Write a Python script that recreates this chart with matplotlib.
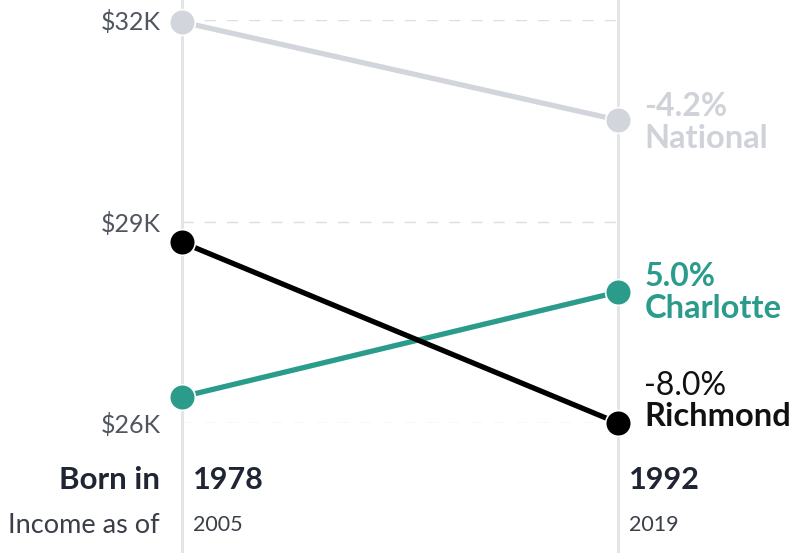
import matplotlib.pyplot as plt

plt.rcParams['font.family'] = ['Lato', 'DejaVu Sans']

born = ['1978', '1992']
income_year = ['2005', '2019']

names = ['National', 'Charlotte', 'Richmond']
changes = ['-4.2%', '5.0%', '-8.0%']
start = [31.97, 26.39, 28.69]
end = [30.51, 27.95, 26.0]
colors = ['#d3d5dc', '#2b9c8b', '#000000']
text_colors = ['#cfd2d9', '#2b9c8b', '#111111']

yticks = [26, 29, 32]
ytick_labels = ['$26K', '$29K', '$32K']

fig = plt.figure(figsize=(8.01, 5.53), dpi=100)
ax = fig.add_axes([182 / 801, 130 / 553, 436 / 801, 403 / 553])
ax.set_xlim(0, 1)
ax.set_ylim(26, 32)
for s in ax.spines.values():
    s.set_visible(False)
ax.set_xticks([])
ax.set_yticks(yticks)
ax.set_yticklabels(ytick_labels, fontsize=18, color='#50555f')
ax.tick_params(axis='y', length=0, pad=15)

# dashed grid + vertical year lines
for t in yticks:
    ax.axhline(t, color='#dcdde2', lw=1, ls=(0, (8, 8)), zorder=1)
for x in [0, 1]:
    ax.axvline(x, ymin=-0.33, ymax=1.06, color='#e3e4e8', lw=2.2, clip_on=False, zorder=1)

# label offsets (points) for the two text lines at the right
offs = [(10, -13), (11, -12), (27, 5)]
for i in range(3):
    ax.plot([0, 1], [start[i], end[i]], color=colors[i], lw=3.8, zorder=3,
            marker='o', ms=18.5, mec='white', mew=1.2, clip_on=False)
    w = 'bold' if i < 2 else 'normal'
    ax.annotate(changes[i], (1, end[i]), xytext=(19, offs[i][0]), textcoords='offset points',
                ha='left', va='center', fontsize=23, color=text_colors[i], fontweight=w,
                annotation_clip=False)
    ax.annotate(names[i], (1, end[i]), xytext=(19, offs[i][1]), textcoords='offset points',
                ha='left', va='center', fontsize=23.5, color=text_colors[i], fontweight='bold',
                annotation_clip=False)

# bottom labels
ax.annotate('Born in', (0, 25.15), xytext=(-16, 0), textcoords='offset points',
            ha='right', va='center', fontsize=22.5, fontweight='bold', color='#1f2533',
            annotation_clip=False)
ax.annotate('Income as of', (0, 24.48), xytext=(-16, 0), textcoords='offset points',
            ha='right', va='center', fontsize=19.5, color='#3a3f48', annotation_clip=False)
for x in [0, 1]:
    ax.annotate(born[x], (x, 25.15), xytext=(8, 0), textcoords='offset points',
                ha='left', va='center', fontsize=22, fontweight='bold', color='#1f2533',
                annotation_clip=False)
    ax.annotate(income_year[x], (x, 24.48), xytext=(8, 0), textcoords='offset points',
                ha='left', va='center', fontsize=15.5, color='#3a3f48', annotation_clip=False)

fig.savefig('out.png', dpi=100)
